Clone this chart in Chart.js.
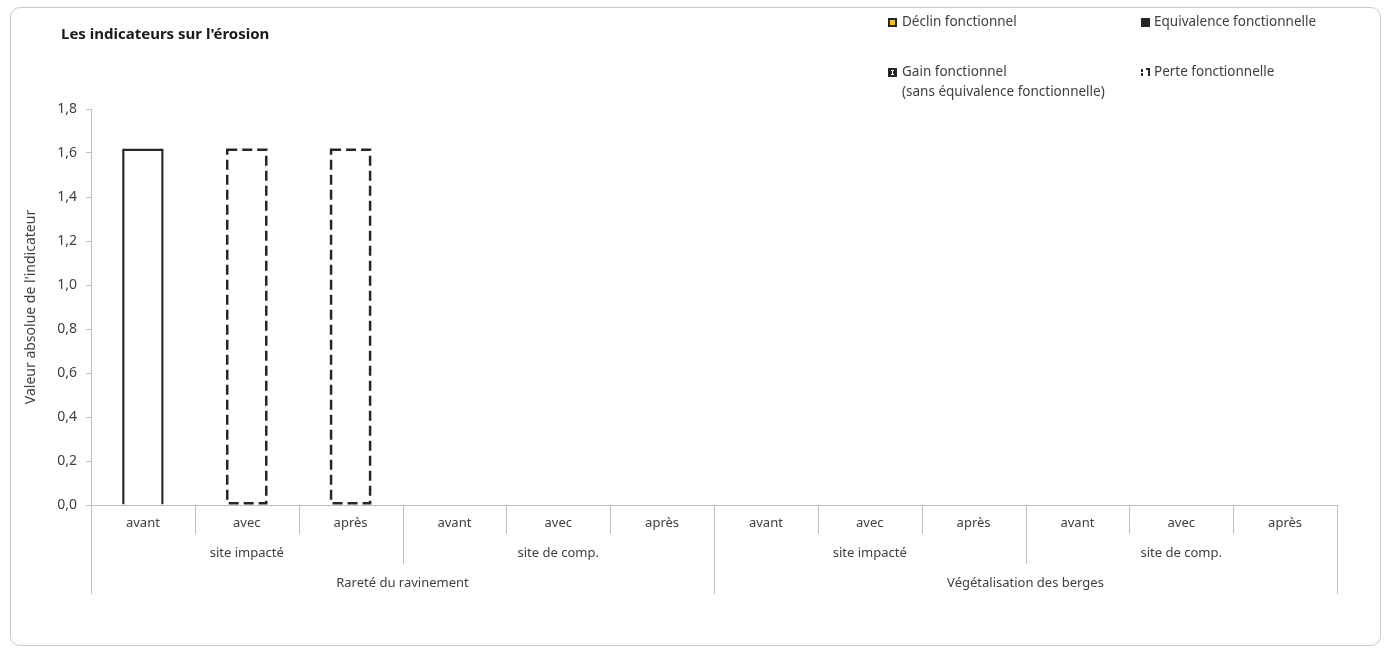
<!DOCTYPE html>
<html><head><meta charset="utf-8">
<script src="https://cdn.jsdelivr.net/npm/chart.js@4.4.1/dist/chart.umd.min.js"></script>
<style>
html,body{margin:0;padding:0;background:#fff;}
#wrap{position:relative;width:1392px;height:656px;}
#frame{position:absolute;left:10px;top:7px;width:1371px;height:639px;border:1px solid #c9c9c9;border-radius:10px;box-sizing:border-box;pointer-events:none}
canvas{position:absolute;left:0;top:0}
</style></head><body>
<div id="wrap"><canvas id="c" width="1392" height="656"></canvas><div id="frame"></div></div>
<script>
// ---- data ----
const periods = ['avant','avec','après','avant','avec','après','avant','avec','après','avant','avec','après'];
const sites = ['site impacté','site de comp.','site impacté','site de comp.'];
const indicators = ['Rareté du ravinement','Végétalisation des berges'];
const chartTitle = "Les indicateurs sur l'érosion";
const yTitle = "Valeur absolue de l'indicateur";
const yMin = 0, yMax = 1.8, yStep = 0.2;
const etatInitial = [1.62,0,0,0,0,0,0,0,0,0,0,0];
const declin      = [0,0,0,0,0,0,0,0,0,0,0,0];
const equivalence = [0,0,0,0,0,0,0,0,0,0,0,0];
const gain        = [0,0,0,0,0,0,0,0,0,0,0,0];
const perte       = [0,1.62,1.62,0,0,0,0,0,0,0,0,0];
const legendNames = ['Déclin fonctionnel','Equivalence fonctionnelle','Gain fonctionnel\n(sans équivalence fonctionnelle)','Perte fonctionnelle'];

// ---- styles ----
const FONT = "'Noto Sans', 'Open Sans', sans-serif";
const GRID = '#bfbfbf';
const TXT = '#404040';
const DARK = '#262626';

const dashedBars = {
  id:'dashedBars',
  afterDatasetsDraw(chart){
    const ctx = chart.ctx;
    chart.data.datasets.forEach((ds,di)=>{
      if(!ds.dashPattern) return;
      const meta = chart.getDatasetMeta(di);
      meta.data.forEach((el,i)=>{
        if(!ds.data[i]) return;
        const {x,y,base,width} = el.getProps(['x','y','base','width'],true);
        const lw = ds.dashWidth;
        const l = x-width/2+lw/2, r = x+width/2-lw/2;
        const t = Math.min(y,base)+lw/2, b = Math.max(y,base)-lw/2;
        ctx.save();
        ctx.strokeStyle = ds.dashColor; ctx.lineWidth = lw; ctx.setLineDash(ds.dashPattern);
        ctx.strokeRect(l,t,r-l,b-t);
        ctx.restore();
      });
    });
  }
};

function drawMarker(ctx, kind, x, y){
  const s = 9;
  ctx.save();
  if(kind===0){
    ctx.fillStyle = DARK; ctx.fillRect(x,y,s,s);
    ctx.fillStyle = '#FFC000'; ctx.fillRect(x+2,y+2,s-4,s-4);
  } else if(kind===1){
    ctx.fillStyle = DARK; ctx.fillRect(x,y,s,s);
  } else if(kind===2){
    ctx.fillStyle = DARK; ctx.fillRect(x,y,s,s);
    ctx.fillStyle = '#ffffff';
    ctx.fillRect(x+3,y+2,3,1); ctx.fillRect(x+4,y+3,1,3); ctx.fillRect(x+3,y+6,3,1);
  } else {
    ctx.fillStyle = DARK;
    ctx.fillRect(x,y+1,2,3); ctx.fillRect(x,y+5,2,3);
    ctx.fillRect(x+7,y,2,8); ctx.fillRect(x+5,y,2,2);
  }
  ctx.restore();
}

const decorations = {
  id:'decorations',
  afterDraw(chart){
    const ctx = chart.ctx, xs = chart.scales.x;
    ctx.save();
    // title
    ctx.fillStyle = '#1a1a1a'; ctx.font = "bold 15px "+FONT;
    ctx.textAlign = 'left'; ctx.textBaseline = 'middle';
    ctx.fillText(chartTitle, 61, 35);
    // legend
    const slots = [[888,22],[1141,22],[888,72],[1141,72]];
    ctx.font = "13.5px "+FONT; ctx.fillStyle = TXT;
    legendNames.forEach((name,k)=>{
      const [mx,my] = slots[k];
      drawMarker(ctx,k,mx,my-4);
      name.split('\n').forEach((line,j)=>{
        ctx.fillStyle = TXT;
        ctx.fillText(line, k%2 ? mx+13 : mx+14, my+j*20);
      });
    });
    // multi-level x axis
    const y0 = xs.top;
    const n = periods.length;
    const perSite = n/sites.length, perInd = n/indicators.length;
    const edge = i => xs.getPixelForValue(i-0.5);
    ctx.strokeStyle = GRID; ctx.lineWidth = 1;
    for(let i=0;i<=n;i++){
      let depth = 29;
      if(i%perSite===0) depth = 59;
      if(i%perInd===0) depth = 89;
      const x = Math.round(edge(i))+0.5;
      ctx.beginPath(); ctx.moveTo(x,y0); ctx.lineTo(x,y0+depth); ctx.stroke();
    }
    ctx.fillStyle = TXT; ctx.font = "13px "+FONT; ctx.textAlign = 'center';
    periods.forEach((p,i)=>ctx.fillText(p, xs.getPixelForValue(i), y0+18));
    sites.forEach((s,k)=>ctx.fillText(s, (edge(k*perSite)+edge((k+1)*perSite))/2, y0+48));
    indicators.forEach((s,k)=>ctx.fillText(s, (edge(k*perInd)+edge((k+1)*perInd))/2, y0+78));
    ctx.restore();
  }
};

const barCommon = {barPercentage:0.4, categoryPercentage:1};
new Chart(document.getElementById('c'), {
  type:'bar',
  data:{
    labels: periods,
    datasets:[
      Object.assign({label:'État initial', data:etatInitial, backgroundColor:'#ffffff', borderColor:DARK, borderWidth:2.5}, barCommon),
      Object.assign({label:legendNames[0], data:declin, backgroundColor:'#FFC000', borderColor:DARK, borderWidth:2}, barCommon),
      Object.assign({label:legendNames[1], data:equivalence, backgroundColor:DARK, borderWidth:0}, barCommon),
      Object.assign({label:legendNames[2], data:gain, backgroundColor:DARK, borderWidth:0}, barCommon),
      Object.assign({label:legendNames[3], data:perte, backgroundColor:'#ffffff', borderWidth:0, dashPattern:[10,5], dashWidth:2.5, dashColor:DARK}, barCommon)
    ]
  },
  options:{
    responsive:false, animation:false,
    layout:{padding:{top:109,right:55,left:0,bottom:0}},
    plugins:{legend:{display:false}, title:{display:false}, tooltip:{enabled:false}},
    scales:{
      x:{stacked:true, offset:true, ticks:{display:false}, grid:{display:false},
         border:{display:true,color:GRID}, afterFit(s){s.height=151;}},
      y:{stacked:true, min:yMin, max:yMax,
         ticks:{stepSize:yStep, padding:9, color:TXT, font:{family:FONT,size:14},
                callback:v=>Number(v).toFixed(1).replace('.',',')},
         grid:{display:true, drawOnChartArea:false, drawTicks:true, tickLength:5, color:GRID},
         border:{display:true,color:GRID},
         title:{display:true, text:yTitle, color:TXT, font:{family:FONT,size:14}, padding:{top:23,bottom:0}},
         afterFit(s){s.width=91;}}
    }
  },
  plugins:[dashedBars, decorations]
});
</script>
</body></html>
